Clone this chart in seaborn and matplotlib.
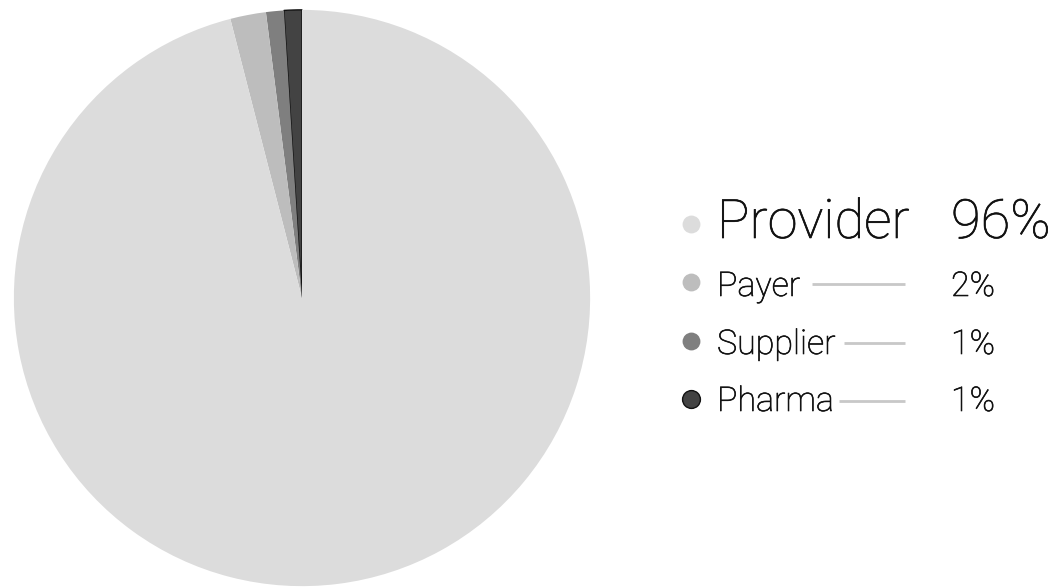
import matplotlib
matplotlib.use("Agg")
import matplotlib.pyplot as plt
import matplotlib.patheffects as pe
import seaborn as sns

# ---- data ----
categories = ["Provider", "Payer", "Supplier", "Pharma"]
shares = [96, 2, 1, 1]
pct_labels = ["96%", "2%", "1%", "1%"]
colors = ["#dcdcdc", "#bdbdbd", "#7f7f7f", "#434343"]

sns.set_theme(style="white")
plt.rcParams["font.family"] = ["Roboto", "DejaVu Sans"]

W, H = 1054, 588
fig = plt.figure(figsize=(W / 100, H / 100), dpi=100)
fig.patch.set_facecolor("white")

# pie axes: center (302, 298) px, radius 289 px
cx, cy, r = 302, 298, 289
ax = fig.add_axes([(cx - r) / W, (H - cy - r) / H, 2 * r / W, 2 * r / H])
pie_vals = shares[::-1]
pie_cols = colors[::-1]
wedges, _ = ax.pie(pie_vals, colors=pie_cols, startangle=90, counterclock=True,
                   radius=1, wedgeprops=dict(linewidth=0, edgecolor="none"))
# Pharma (first in pie order) outlined
wedges[0].set_edgecolor("#111111")
wedges[0].set_linewidth(1.0)
ax.set_xlim(-1.003, 1.003)
ax.set_ylim(-1.003, 1.003)
ax.set_aspect("equal")
ax.axis("off")

# legend overlay in pixel coordinates
lg = fig.add_axes([0, 0, 1, 1])
lg.set_xlim(0, W)
lg.set_ylim(H, 0)
lg.axis("off")

dot_x = 691
dot_y = [224, 282, 341, 399]
base_y = [238, 296, 354, 411]
label_x = 717
pct_x = 951
font_sizes = [39, 24.5, 24.5, 24.5]
line_start = [None, 812, 844, 839]
line_end = 905
text_color = "#111111"

for i, cat in enumerate(categories):
    ec = "#111111" if i == 3 else colors[i]
    lg.scatter([dot_x], [dot_y[i]], s=165, color=colors[i], edgecolors=ec,
               linewidths=1.0 if i == 3 else 0, zorder=3)
    effects = [pe.withStroke(linewidth=0.45, foreground=text_color)]
    lg.text(label_x, base_y[i], cat, fontsize=font_sizes[i], fontweight="light",
            color=text_color, ha="left", va="baseline", path_effects=effects)
    lg.text(pct_x, base_y[i], pct_labels[i], fontsize=font_sizes[i], fontweight="light",
            color=text_color, ha="left", va="baseline", path_effects=effects)
    if line_start[i] is not None:
        ly = dot_y[i] + 2
        lg.plot([line_start[i], line_end], [ly, ly], color="#c8c8c8", linewidth=2.0,
                solid_capstyle="butt")

fig.savefig("out.png", dpi=100, facecolor="white")
